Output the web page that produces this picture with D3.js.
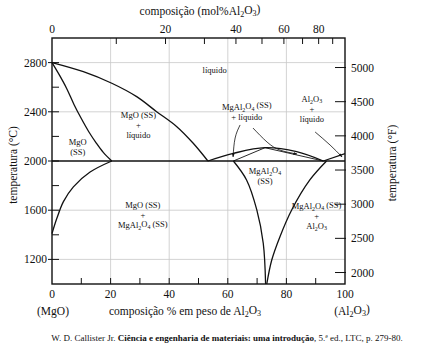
<!DOCTYPE html>
<html>
<head>
<meta charset="utf-8">
<script src="https://cdn.jsdelivr.net/npm/d3@7"></script>
<style>
  body { margin: 0; background: #fff; }
  svg text { font-family: "Liberation Serif", "Times New Roman", "DejaVu Serif", serif; fill: #111; }
</style>
</head>
<body>
<div id="main"></div>
<script>
const ctx = { w: 436, h: 351, left: 52, right: 345, top: 38, bottom: 284 };

// axes
const wtTicks = d3.range(0, 101, 10);
const wtLabels = [0, 20, 40, 60, 80, 100];
const molTicks = [10, 20, 30, 40, 50, 60, 70, 80, 90];
const molLabels = [0, 20, 40, 60, 80];
const tempCTicks = d3.range(1000, 3001, 200);
const tempCLabels = [1200, 1600, 2000, 2400, 2800];
const tempFLabels = [2000, 2500, 3000, 3500, 4000, 4500, 5000];
const gridWt = [20, 40, 60, 80];
const gridC = [1200, 1600, 2400, 2800];

// phase boundaries [wt% Al2O3, °C]
const liquidusMgO = [[0, 2800], [10.7, 2726], [20.4, 2632], [28.9, 2523], [35.7, 2401], [42.6, 2279], [48.2, 2144], [53.2, 2000]];
const solidusMgO = [[0, 2800], [2.5, 2700], [5, 2590], [7.5, 2460], [10, 2345], [12.5, 2240], [15, 2150], [17.5, 2070], [20.4, 2000]];
const solvusMgO = [[0, 1410], [1.6, 1530], [3.9, 1670], [7.3, 1790], [13, 1910], [20.4, 2000]];
const liquidusSpinel = [[53.2, 2000], [61.9, 2062], [72.7, 2108], [83.5, 2076], [92.6, 2000]];
const solidusSpinelL = [[61.9, 2000], [72.7, 2108]];
const solidusSpinelR = [[72.7, 2108], [92.6, 2000]];
const liquidusAl2O3 = [[92.6, 2000], [100, 2060]];
const solvusSpinelL = [[61.9, 2000], [66.4, 1846], [69.9, 1602], [72.1, 1331], [72.9, 1000]];
const solvusSpinelR = [[93.7, 2000], [88, 1846], [81.8, 1602], [77.8, 1385], [75, 1195], [73.3, 1000]];
const eutectic = [[0, 2000], [100, 2000]];

const arrows = [
    [[64.2, 2293], [62.5, 2187], [61.8, 2033]],
    [[68.6, 2268], [73.4, 2154], [77.8, 2089], [83.6, 2057]],
    [[89.8, 2236], [94.9, 2130], [99, 2033]],
];

// region labels: [wt%, °C, lines]
const labels = [
    [55.5, 2740, ["líquido"]],
    [29.5, 2290, ["MgO (SS)", "+", "líquido"]],
    [8.8, 2110, ["MgO", "(SS)"]],
    [66.5, 2400, ["MgAl_2O_4 (SS)", "+ líquido"]],
    [88.7, 2420, ["Al_2O_3", "+", "líquido"]],
    [72.7, 1880, ["MgAl_2O_4", "(SS)"]],
    [31, 1560, ["MgO (SS)", "+", "MgAl_2O_4 (SS)"]],
    [90.3, 1550, ["MgAl_2O_4 (SS)", "+", "Al_2O_3"]],
];

function molToWt(m) {
    return 100 * m * 101.96 / (m * 101.96 + (100 - m) * 40.3);
}

function rich(sel, str) {
    let parts = str.split(/(_\d)/).filter(p => p.length);
    let sub = false;
    parts.forEach(p => {
        if (p[0] === "_") {
            sel.append("tspan").attr("dy", "0.3em").attr("font-size", "0.7em").text(p.slice(1));
            sub = true;
        } else {
            let t = sel.append("tspan").text(p);
            if (sub) { t.attr("dy", "-0.3em"); sub = false; }
        }
    });
}

function createViz() {
    let svg = d3.select("#main").append("svg").attr("width", ctx.w).attr("height", ctx.h)
        .attr("font-family", "'Liberation Serif', 'Times New Roman', serif");

    let x = d3.scaleLinear().domain([0, 100]).range([ctx.left, ctx.right]);
    let y = d3.scaleLinear().domain([1000, 3000]).range([ctx.bottom, ctx.top]);
    let yF = d3.scaleLinear().domain([1000 * 9 / 5 + 32, 3000 * 9 / 5 + 32]).range([ctx.bottom, ctx.top]);

    svg.append("defs").append("marker")
        .attr("id", "arr").attr("viewBox", "0 0 10 10").attr("refX", 9).attr("refY", 5)
        .attr("markerWidth", 5).attr("markerHeight", 5).attr("orient", "auto")
        .append("path").attr("d", "M0,1.5L10,5L0,8.5Z").attr("fill", "#111");

    // grid
    let grid = svg.append("g").attr("stroke", "#c8c8c8").attr("stroke-width", 0.8);
    grid.selectAll(".gv").data(gridWt).enter().append("line")
        .attr("x1", d => x(d)).attr("x2", d => x(d)).attr("y1", ctx.top).attr("y2", ctx.bottom);
    grid.selectAll(".gh").data(gridC).enter().append("line")
        .attr("x1", ctx.left).attr("x2", ctx.right).attr("y1", d => y(d)).attr("y2", d => y(d));

    // ticks
    let ticks = svg.append("g").attr("stroke", "#111").attr("stroke-width", 1);
    ticks.selectAll(".tb").data(wtTicks.slice(1, -1)).enter().append("line")
        .attr("x1", d => x(d)).attr("x2", d => x(d)).attr("y1", ctx.bottom).attr("y2", ctx.bottom - 6);
    ticks.selectAll(".tt").data(molTicks).enter().append("line")
        .attr("x1", d => x(molToWt(d))).attr("x2", d => x(molToWt(d))).attr("y1", ctx.top).attr("y2", ctx.top + 6);
    ticks.selectAll(".tl").data(tempCTicks.slice(1, -1)).enter().append("line")
        .attr("x1", d => tempCLabels.includes(d) ? ctx.left - 4 : ctx.left).attr("x2", ctx.left + 7)
        .attr("y1", d => y(d)).attr("y2", d => y(d));
    ticks.selectAll(".tr").data(tempFLabels).enter().append("line")
        .attr("x1", ctx.right - 10).attr("x2", ctx.right + 1)
        .attr("y1", d => yF(d)).attr("y2", d => yF(d));

    // phase lines
    let line = d3.line().x(d => x(d[0])).y(d => y(d[1])).curve(d3.curveCatmullRom);
    let lines = svg.append("g").attr("fill", "none").attr("stroke", "#111");
    [liquidusMgO, solidusMgO, solvusMgO, liquidusSpinel, liquidusAl2O3, solvusSpinelL, solvusSpinelR, eutectic]
        .forEach(d => lines.append("path").attr("d", line(d)).attr("stroke-width", 1.3));
    [solidusSpinelL, solidusSpinelR]
        .forEach(d => lines.append("path").attr("d", line(d)).attr("stroke-width", 0.9));

    let arrowLine = d3.line().x(d => x(d[0])).y(d => y(d[1])).curve(d3.curveNatural);
    arrows.forEach(d => lines.append("path").attr("d", arrowLine(d))
        .attr("stroke-width", 0.8).attr("marker-end", "url(#arr)"));

    // frame
    svg.append("rect").attr("x", ctx.left).attr("y", ctx.top)
        .attr("width", ctx.right - ctx.left).attr("height", ctx.bottom - ctx.top)
        .attr("fill", "none").attr("stroke", "#111").attr("stroke-width", 1.4);

    // region labels
    labels.forEach(l => {
        l[2].forEach((s, i) => {
            let t = svg.append("text").attr("x", x(l[0])).attr("y", y(l[1]) + (i - (l[2].length - 1) / 2) * 10)
                .attr("dy", "0.35em").attr("text-anchor", "middle").attr("font-size", 8.5);
            rich(t, s);
        });
    });

    // tick labels
    svg.selectAll(".lb").data(wtLabels).enter().append("text")
        .attr("x", d => x(d)).attr("y", 298).attr("text-anchor", "middle").attr("font-size", 11.5).text(d => d);
    svg.selectAll(".lt").data(molLabels).enter().append("text")
        .attr("x", d => x(molToWt(d))).attr("y", 33).attr("text-anchor", "middle").attr("font-size", 11.5).text(d => d);
    svg.selectAll(".ll").data(tempCLabels).enter().append("text")
        .attr("x", ctx.left - 5).attr("y", d => y(d)).attr("dy", "0.35em").attr("text-anchor", "end")
        .attr("font-size", 11.5).text(d => d);
    svg.selectAll(".lr").data(tempFLabels).enter().append("text")
        .attr("x", ctx.right + 6).attr("y", d => yF(d)).attr("dy", "0.35em").attr("text-anchor", "start")
        .attr("font-size", 11.5).text(d => d);

    // titles
    rich(svg.append("text").attr("x", 200).attr("y", 15).attr("text-anchor", "middle").attr("font-size", 11.5),
        "composição (mol%Al_2O_3)");
    rich(svg.append("text").attr("x", 185).attr("y", 315).attr("text-anchor", "middle").attr("font-size", 11.5),
        "composição % em peso de Al_2O_3");
    svg.append("text").attr("x", 53).attr("y", 315).attr("text-anchor", "middle").attr("font-size", 11.5).text("(MgO)");
    rich(svg.append("text").attr("x", 352).attr("y", 315).attr("text-anchor", "middle").attr("font-size", 11.5),
        "(Al_2O_3)");
    svg.append("text").attr("transform", "translate(17,165) rotate(-90)").attr("text-anchor", "middle")
        .attr("font-size", 11.5).text("temperatura (°C)");
    svg.append("text").attr("transform", "translate(396,163) rotate(-90)").attr("text-anchor", "middle")
        .attr("font-size", 11.5).text("temperatura (°F)");

    // caption
    let cap = svg.append("text").attr("x", 227).attr("y", 341).attr("text-anchor", "middle").attr("font-size", 9);
    cap.append("tspan").text("W. D. Callister Jr. ");
    cap.append("tspan").attr("font-weight", "bold").text("Ciência e engenharia de materiais: uma introdução");
    cap.append("tspan").text(", 5.ª ed., LTC, p. 279-80.");
}

createViz();
</script>
</body>
</html>
